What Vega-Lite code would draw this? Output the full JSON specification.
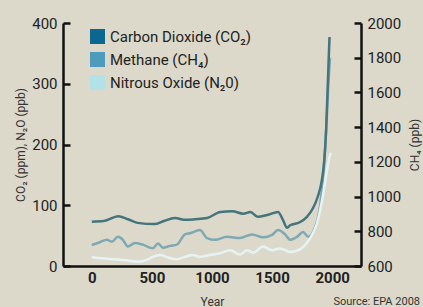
{
  "$schema": "https://vega.github.io/schema/vega-lite/v6.json",
  "width": 298,
  "height": 243,
  "autosize": {"type": "none"},
  "padding": {"left": 63, "top": 23, "right": 62, "bottom": 41},
  "background": "#dcd9cb",
  "config": {
    "view": {"stroke": null},
    "font": "Roboto, sans-serif",
    "axis": {
      "grid": false,
      "domainColor": "#111111",
      "domainWidth": 2.5,
      "tickColor": "#111111",
      "tickWidth": 2.5,
      "labelColor": "#222222",
      "labelFontSize": 15,
      "titleColor": "#333333",
      "titleFontSize": 12,
      "titleFontWeight": "normal",
      "format": "d"
    }
  },
  "title": {
    "text": "Source: EPA 2008",
    "orient": "bottom",
    "anchor": "end",
    "fontSize": 11,
    "fontWeight": "normal",
    "color": "#333333",
    "offset": -11
  },
  "data": {
    "values": [
      {"series": "Carbon Dioxide (CO₂)", "year": 0, "value": 73},
      {"series": "Carbon Dioxide (CO₂)", "year": 100, "value": 74},
      {"series": "Carbon Dioxide (CO₂)", "year": 220, "value": 82},
      {"series": "Carbon Dioxide (CO₂)", "year": 300, "value": 77},
      {"series": "Carbon Dioxide (CO₂)", "year": 380, "value": 71},
      {"series": "Carbon Dioxide (CO₂)", "year": 520, "value": 69},
      {"series": "Carbon Dioxide (CO₂)", "year": 600, "value": 74},
      {"series": "Carbon Dioxide (CO₂)", "year": 690, "value": 79},
      {"series": "Carbon Dioxide (CO₂)", "year": 780, "value": 76},
      {"series": "Carbon Dioxide (CO₂)", "year": 860, "value": 77},
      {"series": "Carbon Dioxide (CO₂)", "year": 960, "value": 79},
      {"series": "Carbon Dioxide (CO₂)", "year": 1070, "value": 89},
      {"series": "Carbon Dioxide (CO₂)", "year": 1170, "value": 90},
      {"series": "Carbon Dioxide (CO₂)", "year": 1260, "value": 86},
      {"series": "Carbon Dioxide (CO₂)", "year": 1320, "value": 89},
      {"series": "Carbon Dioxide (CO₂)", "year": 1380, "value": 81},
      {"series": "Carbon Dioxide (CO₂)", "year": 1460, "value": 84},
      {"series": "Carbon Dioxide (CO₂)", "year": 1550, "value": 89},
      {"series": "Carbon Dioxide (CO₂)", "year": 1590, "value": 76},
      {"series": "Carbon Dioxide (CO₂)", "year": 1625, "value": 63},
      {"series": "Carbon Dioxide (CO₂)", "year": 1650, "value": 67},
      {"series": "Carbon Dioxide (CO₂)", "year": 1730, "value": 72},
      {"series": "Carbon Dioxide (CO₂)", "year": 1790, "value": 81},
      {"series": "Carbon Dioxide (CO₂)", "year": 1840, "value": 95},
      {"series": "Carbon Dioxide (CO₂)", "year": 1880, "value": 114},
      {"series": "Carbon Dioxide (CO₂)", "year": 1915, "value": 142},
      {"series": "Carbon Dioxide (CO₂)", "year": 1935, "value": 175},
      {"series": "Carbon Dioxide (CO₂)", "year": 1950, "value": 225},
      {"series": "Carbon Dioxide (CO₂)", "year": 1962, "value": 290},
      {"series": "Carbon Dioxide (CO₂)", "year": 1972, "value": 345},
      {"series": "Carbon Dioxide (CO₂)", "year": 1978, "value": 377},
      {"series": "Methane (CH₄)", "year": 0, "value": 721},
      {"series": "Methane (CH₄)", "year": 67, "value": 737},
      {"series": "Methane (CH₄)", "year": 125, "value": 751},
      {"series": "Methane (CH₄)", "year": 167, "value": 740},
      {"series": "Methane (CH₄)", "year": 217, "value": 768},
      {"series": "Methane (CH₄)", "year": 258, "value": 751},
      {"series": "Methane (CH₄)", "year": 300, "value": 712},
      {"series": "Methane (CH₄)", "year": 358, "value": 733},
      {"series": "Methane (CH₄)", "year": 425, "value": 723},
      {"series": "Methane (CH₄)", "year": 508, "value": 702},
      {"series": "Methane (CH₄)", "year": 550, "value": 730},
      {"series": "Methane (CH₄)", "year": 592, "value": 705},
      {"series": "Methane (CH₄)", "year": 650, "value": 716},
      {"series": "Methane (CH₄)", "year": 708, "value": 723},
      {"series": "Methane (CH₄)", "year": 775, "value": 782},
      {"series": "Methane (CH₄)", "year": 817, "value": 789},
      {"series": "Methane (CH₄)", "year": 900, "value": 807},
      {"series": "Methane (CH₄)", "year": 958, "value": 761},
      {"series": "Methane (CH₄)", "year": 1025, "value": 751},
      {"series": "Methane (CH₄)", "year": 1125, "value": 768},
      {"series": "Methane (CH₄)", "year": 1233, "value": 761},
      {"series": "Methane (CH₄)", "year": 1333, "value": 782},
      {"series": "Methane (CH₄)", "year": 1425, "value": 765},
      {"series": "Methane (CH₄)", "year": 1500, "value": 779},
      {"series": "Methane (CH₄)", "year": 1550, "value": 807},
      {"series": "Methane (CH₄)", "year": 1608, "value": 782},
      {"series": "Methane (CH₄)", "year": 1650, "value": 751},
      {"series": "Methane (CH₄)", "year": 1708, "value": 768},
      {"series": "Methane (CH₄)", "year": 1758, "value": 796},
      {"series": "Methane (CH₄)", "year": 1800, "value": 768},
      {"series": "Methane (CH₄)", "year": 1850, "value": 810},
      {"series": "Methane (CH₄)", "year": 1900, "value": 950},
      {"series": "Methane (CH₄)", "year": 1930, "value": 1160},
      {"series": "Methane (CH₄)", "year": 1950, "value": 1380},
      {"series": "Methane (CH₄)", "year": 1965, "value": 1600},
      {"series": "Methane (CH₄)", "year": 1982, "value": 1800},
      {"series": "Nitrous Oxide (N₂0)", "year": 0, "value": 15},
      {"series": "Nitrous Oxide (N₂0)", "year": 83, "value": 12.6},
      {"series": "Nitrous Oxide (N₂0)", "year": 192, "value": 11},
      {"series": "Nitrous Oxide (N₂0)", "year": 300, "value": 9},
      {"series": "Nitrous Oxide (N₂0)", "year": 383, "value": 7},
      {"series": "Nitrous Oxide (N₂0)", "year": 458, "value": 10},
      {"series": "Nitrous Oxide (N₂0)", "year": 508, "value": 15},
      {"series": "Nitrous Oxide (N₂0)", "year": 567, "value": 18},
      {"series": "Nitrous Oxide (N₂0)", "year": 633, "value": 14},
      {"series": "Nitrous Oxide (N₂0)", "year": 708, "value": 11},
      {"series": "Nitrous Oxide (N₂0)", "year": 775, "value": 15},
      {"series": "Nitrous Oxide (N₂0)", "year": 842, "value": 18},
      {"series": "Nitrous Oxide (N₂0)", "year": 900, "value": 15},
      {"series": "Nitrous Oxide (N₂0)", "year": 983, "value": 18},
      {"series": "Nitrous Oxide (N₂0)", "year": 1067, "value": 21},
      {"series": "Nitrous Oxide (N₂0)", "year": 1150, "value": 26},
      {"series": "Nitrous Oxide (N₂0)", "year": 1233, "value": 19},
      {"series": "Nitrous Oxide (N₂0)", "year": 1292, "value": 26},
      {"series": "Nitrous Oxide (N₂0)", "year": 1342, "value": 22},
      {"series": "Nitrous Oxide (N₂0)", "year": 1425, "value": 32},
      {"series": "Nitrous Oxide (N₂0)", "year": 1500, "value": 26},
      {"series": "Nitrous Oxide (N₂0)", "year": 1567, "value": 29},
      {"series": "Nitrous Oxide (N₂0)", "year": 1650, "value": 23},
      {"series": "Nitrous Oxide (N₂0)", "year": 1717, "value": 26},
      {"series": "Nitrous Oxide (N₂0)", "year": 1758, "value": 31},
      {"series": "Nitrous Oxide (N₂0)", "year": 1817, "value": 46},
      {"series": "Nitrous Oxide (N₂0)", "year": 1875, "value": 71},
      {"series": "Nitrous Oxide (N₂0)", "year": 1917, "value": 109},
      {"series": "Nitrous Oxide (N₂0)", "year": 1958, "value": 158},
      {"series": "Nitrous Oxide (N₂0)", "year": 1983, "value": 183},
      {"series": "Nitrous Oxide (N₂0)", "year": 1992, "value": 186}
    ]
  },
  "encoding": {
    "x": {
      "field": "year",
      "type": "quantitative",
      "scale": {"domain": [-240, 2240], "nice": false, "zero": false},
      "axis": {
        "title": "Year",
        "values": [0, 500, 1000, 1500, 2000],
        "ticks": false,
        "labelPadding": 4,
        "labelFontWeight": "bold",
        "titlePadding": 11
      }
    },
    "color": {
      "field": "series",
      "type": "nominal",
      "scale": {
        "domain": ["Carbon Dioxide (CO₂)", "Methane (CH₄)", "Nitrous Oxide (N₂0)"],
        "range": ["#44747c", "#7fa9b2", "#e6f3f4"]
      },
      "legend": {
        "orient": "none",
        "legendX": 27,
        "legendY": 6,
        "title": null,
        "padding": 0,
        "symbolType": "square",
        "symbolSize": 225,
        "symbolStrokeWidth": 0,
        "labelFontSize": 15,
        "labelColor": "#222222",
        "labelOffset": 5,
        "rowPadding": 7,
        "encode": {
          "symbols": {
            "update": {
              "fill": {"signal": "datum.value === 'Carbon Dioxide (CO₂)' ? '#0b6690' : datum.value === 'Methane (CH₄)' ? '#4f9bbd' : '#b2e1e8'"},
              "fillOpacity": {"value": 1},
              "stroke": {"value": "transparent"}
            }
          }
        }
      }
    }
  },
  "layer": [
    {
      "transform": [{"filter": "datum.series === 'Methane (CH₄)'"}],
      "mark": {"type": "line", "strokeWidth": 2.5, "interpolate": "monotone"},
      "encoding": {
        "y": {
          "field": "value",
          "type": "quantitative",
          "scale": {"domain": [600, 2000], "nice": false, "zero": false},
          "axis": {
            "orient": "right",
            "title": "CH₄ (ppb)",
            "titleAngle": -90,
            "titleX": 53,
            "titleBaseline": "middle",
            "values": [600, 800, 1000, 1200, 1400, 1600, 1800, 2000],
            "tickSize": -7,
            "labelPadding": 13
          }
        }
      }
    },
    {
      "transform": [{"filter": "datum.series !== 'Methane (CH₄)'"}],
      "mark": {"type": "line", "strokeWidth": 2.5, "interpolate": "monotone"},
      "encoding": {
        "y": {
          "field": "value",
          "type": "quantitative",
          "scale": {"domain": [0, 400], "nice": false},
          "axis": {
            "orient": "left",
            "title": "CO₂ (ppm), N₂O (ppb)",
            "values": [0, 100, 200, 300, 400],
            "tickSize": -7,
            "labelPadding": 13
          }
        }
      }
    }
  ],
  "resolve": {"scale": {"y": "independent"}}
}
